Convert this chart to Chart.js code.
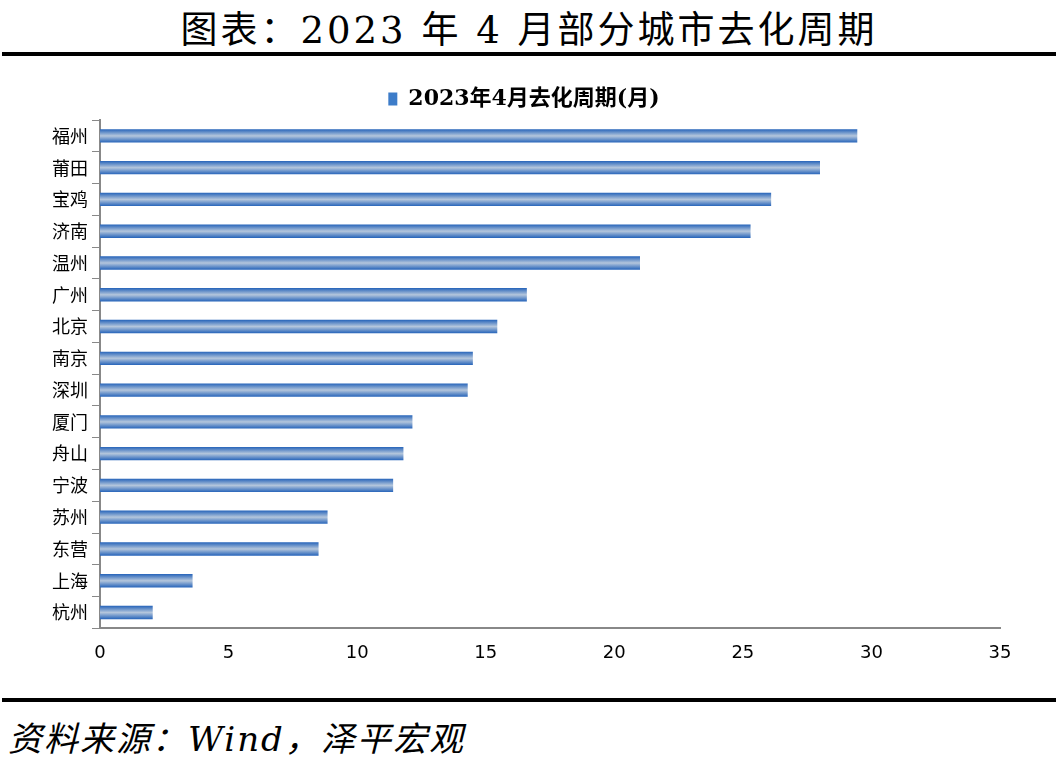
<!DOCTYPE html>
<html><head><meta charset="utf-8">
<script src="https://cdn.jsdelivr.net/npm/chart.js@4"></script>
<style>
body{margin:0;width:1058px;height:765px;background:#fff;font-family:"Noto Sans CJK SC",serif;overflow:hidden}
#title{position:absolute;top:0px;left:0;width:1058px;text-align:center;font-size:37px;letter-spacing:3px;font-family:"DejaVu Serif","Noto Sans CJK SC"}
.rule{position:absolute;left:2px;width:1054px;height:4px;background:#000}
#wrap{position:absolute;top:66px;left:0;width:1058px;height:630px}
#src{position:absolute;top:712px;left:8px;font-size:34px;letter-spacing:2px;font-style:italic;font-family:"DejaVu Serif","Noto Sans CJK SC"}
</style></head><body>
<div id="title">图表：2023 年 4 月部分城市去化周期</div>
<div class="rule" style="top:52px"></div>
<div id="wrap"><canvas id="c"></canvas></div>
<div class="rule" style="top:698px"></div>
<div id="src">资料来源：Wind，泽平宏观</div>
<script>
const cities = ["福州","莆田","宝鸡","济南","温州","广州","北京","南京","深圳","厦门","舟山","宁波","苏州","东营","上海","杭州"];
const cycleMonths = [29.45,28.0,26.1,25.3,21.0,16.6,15.45,14.5,14.3,12.15,11.8,11.4,8.85,8.5,3.6,2.05];
const xTicks = [0,5,10,15,20,25,30,35];

function barFill(ctx) {
  const chart = ctx.chart;
  if (!chart.chartArea || ctx.dataIndex === undefined) return "#3d7cc9";
  const yc = chart.scales.y.getPixelForValue(ctx.dataIndex);
  const g = chart.ctx.createLinearGradient(0, yc - 7, 0, yc + 7);
  g.addColorStop(0, "#1f5fb8");
  g.addColorStop(0.5, "#b4c6dc");
  g.addColorStop(1, "#1f5fb8");
  return g;
}

new Chart(document.getElementById("c"), {
  type: "bar",
  data: {
    labels: cities,
    datasets: [{
      label: "2023年4月去化周期(月)",
      data: cycleMonths,
      backgroundColor: barFill,
      barPercentage: 0.42,
      categoryPercentage: 1,
    }],
  },
  options: {
    indexAxis: "y",
    responsive: true,
    maintainAspectRatio: false,
    animation: false,
    layout: { padding: { left: 48, right: 58, top: 0, bottom: 26 } },
    plugins: {
      legend: {
        labels: {
          boxWidth: 9, boxHeight: 13, padding: 22,
          color: "#000",
          font: { size: 22, weight: "bold", family: "'DejaVu Serif','Noto Sans CJK SC'" },
          generateLabels: () => [{ text: "2023年4月去化周期(月)", fillStyle: "#3d7cc9", strokeStyle: "#3d7cc9", lineWidth: 0 }],
        },
      },
      tooltip: { enabled: false },
    },
    scales: {
      x: {
        min: 0, max: 35,
        afterBuildTicks: (s) => { s.ticks = xTicks.map((v) => ({ value: v })); },
        grid: { display: false, drawTicks: true, tickLength: 8, color: "#888" },
        border: { color: "#888", width: 2 },
        ticks: { color: "#000", font: { size: 18, family: "'DejaVu Sans'" }, padding: 6 },
      },
      y: {
        grid: { display: true, drawOnChartArea: false, offset: true, tickLength: 8, color: "#888" },
        border: { color: "#888", width: 2 },
        ticks: { color: "#000", font: { size: 18, family: "'Noto Sans CJK SC'" }, padding: 4 },
      },
    },
  },
});
</script>
</body></html>
